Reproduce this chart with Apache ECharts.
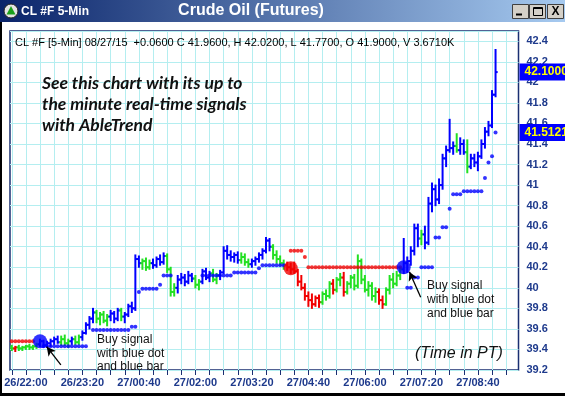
<!DOCTYPE html>
<html>
<head>
<meta charset="utf-8">
<script src="https://cdn.jsdelivr.net/npm/echarts@6/dist/echarts.min.js"></script>
<style>
html,body{margin:0;padding:0;background:#ffffff;overflow:hidden;}
#chart{width:565px;height:396px;}
</style>
</head>
<body>
<div id="chart"></div>
<script>
// ---------------- data ----------------
const firstSlot = '26/21:40';          // first 5-minute slot on the axis
const slotCount = 144;
const tickLabels = ['26/22:00','26/23:20','27/00:40','27/02:00','27/03:20','27/04:40','27/06:00','27/07:20','27/08:40'];

const opens = [
 39.42,39.41,39.42,39.41,39.42,39.43,39.42,39.43,39.45,39.48,
 39.44,39.46,39.48,39.50,39.47,39.50,39.46,39.48,39.50,39.47,
 39.52,39.56,39.64,39.70,39.76,39.70,39.74,39.68,39.72,39.75,
 39.70,39.78,39.72,39.74,39.82,39.80,40.28,40.24,40.26,40.20,
 40.24,40.22,40.28,40.25,40.31,40.18,39.96,40.00,40.08,40.10,
 40.06,40.12,40.09,40.03,40.06,40.16,40.10,40.14,40.08,40.12,
 40.15,40.36,40.32,40.30,40.32,40.27,40.30,40.25,40.23,40.26,
 40.28,40.32,40.36,40.46,40.40,40.32,40.28,40.24,40.22,40.20,
 40.18,40.16,40.06,40.00,39.92,39.88,39.84,39.90,39.86,39.94,
 39.92,40.04,39.98,40.08,40.10,39.96,40.04,40.10,40.02,40.26,
 40.08,39.98,40.02,39.92,39.96,39.88,39.84,39.98,40.08,40.04,
 40.12,40.18,40.24,40.26,40.36,40.58,40.48,40.52,40.44,40.82,
 40.96,40.86,41.00,41.26,41.34,41.36,41.38,41.34,41.40,41.32,
 41.18,41.26,41.22,41.28,41.40,41.52,41.58,41.88
];
const highs = [
 39.44,39.43,39.44,39.43,39.44,39.45,39.44,39.46,39.50,39.49,
 39.48,39.50,39.52,39.53,39.53,39.54,39.50,39.52,39.53,39.54,
 39.58,39.66,39.72,39.80,39.78,39.76,39.77,39.74,39.78,39.77,
 39.80,39.80,39.76,39.84,39.86,40.32,40.31,40.28,40.29,40.27,
 40.28,40.30,40.32,40.34,40.33,40.20,40.04,40.12,40.14,40.13,
 40.16,40.14,40.12,40.08,40.18,40.19,40.16,40.18,40.14,40.17,
 40.40,40.41,40.36,40.34,40.35,40.34,40.33,40.28,40.28,40.30,
 40.34,40.38,40.49,40.48,40.42,40.36,40.31,40.27,40.25,40.24,
 40.25,40.18,40.12,40.04,39.96,39.94,39.92,39.93,39.96,39.98,
 40.06,40.08,40.10,40.14,40.15,40.06,40.12,40.13,40.32,40.28,
 40.12,40.06,40.05,40.00,39.99,39.92,40.00,40.12,40.14,40.16,
 40.20,40.48,40.30,40.40,40.62,40.62,40.56,40.60,40.88,41.02,
 41.00,41.06,41.30,41.38,41.64,41.42,41.50,41.46,41.44,41.44,
 41.30,41.30,41.32,41.44,41.56,41.62,41.92,42.32
];
const lows = [
 39.39,39.38,39.39,39.39,39.40,39.40,39.40,39.41,39.43,39.42,
 39.42,39.43,39.45,39.46,39.44,39.44,39.42,39.45,39.45,39.45,
 39.49,39.55,39.60,39.66,39.66,39.64,39.66,39.63,39.68,39.66,
 39.68,39.68,39.66,39.72,39.76,39.78,40.20,40.18,40.17,40.18,
 40.19,40.20,40.22,40.23,40.15,39.92,39.92,39.95,40.04,40.02,
 40.04,40.06,40.00,39.98,40.04,40.08,40.06,40.06,40.04,40.08,
 40.14,40.28,40.26,40.25,40.24,40.24,40.22,40.20,40.20,40.22,
 40.25,40.28,40.34,40.36,40.28,40.24,40.22,40.18,40.17,40.14,
 40.14,40.02,39.98,39.88,39.82,39.80,39.82,39.81,39.84,39.88,
 39.90,39.94,39.96,40.02,39.92,39.94,40.00,39.98,40.00,40.04,
 39.96,39.92,39.88,39.86,39.84,39.80,39.83,39.94,40.00,40.02,
 40.08,40.14,40.15,40.22,40.32,40.40,40.42,40.38,40.42,40.74,
 40.80,40.82,40.96,41.18,41.32,41.30,41.32,41.30,41.30,41.12,
 41.16,41.18,41.14,41.26,41.36,41.48,41.56,41.86
];
const closes = [
 39.41,39.42,39.41,39.42,39.43,39.42,39.43,39.45,39.48,39.44,
 39.46,39.48,39.50,39.47,39.50,39.46,39.48,39.50,39.47,39.52,
 39.56,39.64,39.70,39.76,39.70,39.74,39.68,39.72,39.75,39.70,
 39.78,39.72,39.74,39.82,39.80,40.28,40.24,40.26,40.20,40.24,
 40.22,40.28,40.25,40.31,40.18,39.96,40.00,40.08,40.10,40.06,
 40.12,40.09,40.03,40.06,40.16,40.10,40.14,40.08,40.12,40.15,
 40.36,40.32,40.30,40.32,40.27,40.30,40.25,40.23,40.26,40.28,
 40.32,40.36,40.46,40.40,40.32,40.28,40.24,40.22,40.20,40.18,
 40.16,40.06,40.00,39.92,39.88,39.84,39.90,39.86,39.94,39.92,
 40.04,39.98,40.08,40.10,39.96,40.04,40.10,40.02,40.26,40.08,
 39.98,40.02,39.92,39.96,39.88,39.84,39.98,40.08,40.04,40.12,
 40.18,40.24,40.26,40.36,40.58,40.48,40.52,40.44,40.82,40.96,
 40.86,41.00,41.26,41.34,41.36,41.38,41.34,41.40,41.32,41.18,
 41.26,41.22,41.28,41.40,41.52,41.58,41.88,42.10
];
// b = blue (up trend), g = green (neutral), r = red (down trend)
const barColors = [
 'g','r','g','g','g','g','g','g','b','b',
 'b','b','b','b','g','g','g','b','g','g',
 'b','b','b','b','g','g','g','g','b','b',
 'b','g','b','b','b','b','b','g','g','g',
 'b','b','b','b','g','g','g','b','b','b',
 'b','b','g','g','b','b','b','g','g','b',
 'b','b','b','b','b','g','g','g','b','b',
 'b','b','b','b','g','g','g','g','r','r',
 'r','r','r','r','r','r','r','r','g','g',
 'g','r','g','g','r','g','g','g','g','g',
 'g','g','g','g','r','r','g','g','g','g',
 'g','b','b','b','b','b','g','b','b','b',
 'b','b','b','b','b','b','g','b','b','g',
 'b','b','b','b','b','b','b','b'
];
// blue support dots
const blueDots = [
 null,null,null,null,null,null,null,null,null,39.43,
 39.43,39.43,39.43,39.43,39.43,39.43,39.43,39.43,39.43,39.43,
 39.43,39.43,null,39.59,39.59,39.59,39.59,39.59,39.59,39.59,
 39.59,39.59,39.59,39.59,39.62,39.62,39.96,39.99,39.99,39.99,
 39.99,39.99,40.03,40.12,40.12,40.12,null,null,null,null,
 null,null,null,null,40.12,40.12,40.12,40.12,40.12,40.12,
 40.12,40.12,40.12,40.15,40.15,40.15,40.15,40.15,40.15,40.15,
 40.19,40.22,40.22,40.22,40.22,40.22,40.22,40.22,null,null,
 null,null,null,null,null,null,null,null,null,null,
 null,null,null,null,null,null,null,null,null,null,
 null,null,null,null,null,null,null,null,null,null,
 null,null,40.00,40.00,40.10,40.10,40.20,40.20,40.20,40.20,
 40.49,40.49,40.59,40.59,40.77,40.91,40.91,40.91,40.94,40.94,
 40.94,40.94,40.94,40.94,41.07,41.22,41.28,41.5121
];
// red resistance dots
const redDots = [
 39.48,39.48,39.48,39.48,39.48,39.48,39.48,null,null,null,
 null,null,null,null,null,null,null,null,null,null,
 null,null,null,null,null,null,null,null,null,null,
 null,null,null,null,null,null,null,null,null,null,
 null,null,null,null,null,null,null,null,null,null,
 null,null,null,null,null,null,null,null,null,null,
 null,null,null,null,null,null,null,null,null,null,
 null,null,null,null,null,null,null,null,null,40.36,
 40.36,40.36,40.36,40.30,40.20,40.20,40.20,40.20,40.20,40.20,
 40.20,40.20,40.20,40.20,40.20,40.20,40.20,40.20,40.20,40.20,
 40.20,40.20,40.20,40.20,40.20,40.20,40.20,40.20,40.20,40.20,
 40.20,null,null,null,null,null,null,null,null,null,
 null,null,null,null,null,null,null,null,null,null,
 null,null,null,null,null,null,null,null
];
const buySignals = [{time:'26/22:20', price:39.48}, {time:'27/06:55', price:40.20}];
const sellSignals = [{time:'27/04:15', price:40.19}];

// ---------------- build ----------------
function slotName(startName, step) {
  const d = parseInt(startName.slice(0,2),10);
  const h = parseInt(startName.slice(3,5),10);
  const m = parseInt(startName.slice(6,8),10);
  const t = h*60 + m + 5*step;
  const day = d + Math.floor(t/1440);
  const r = t % 1440;
  return day + '/' + String(Math.floor(r/60)).padStart(2,'0') + ':' + String(r%60).padStart(2,'0');
}
const times = [];
for (let i = 0; i < slotCount; i++) times.push(slotName(firstSlot, i));
const tickPos = [];
for (let i = 0; i < slotCount; i += 4) tickPos.push(i);
const labelPos = tickLabels.map(t => times.indexOf(t));

const COLORS = {b:'#0000ff', g:'#22e022', r:'#f00000'};
const NAVY = '#1a2f72';
const LABEL = '#1e3a8c';

const barData = opens.map((o, i) => [i, o, highs[i], lows[i], closes[i]]);
const blueData = blueDots.map((v, i) => v == null ? null : [i, v]).filter(Boolean);
const redData = redDots.map((v, i) => v == null ? null : [i, v]).filter(Boolean);
const buyData = buySignals.map(s => [times.indexOf(s.time), s.price]);
const sellData = sellSignals.map(s => [times.indexOf(s.time), s.price]);
const lastClose = closes[closes.length - 1];
const lastDot = blueDots[blueDots.length - 1];

function renderBar(params, api) {
  const i = api.value(0);
  const pH = api.coord([i, api.value(2)]);
  const x = pH[0];
  const yL = api.coord([i, api.value(3)])[1];
  const yO = api.coord([i, api.value(1)])[1];
  const yC = api.coord([i, api.value(4)])[1];
  const w = api.size([1, 0])[0];
  const col = COLORS[barColors[params.dataIndex]];
  const st = {stroke: col, lineWidth: 2};
  return {type: 'group', children: [
    {type: 'line', shape: {x1: x, y1: pH[1] - 0.5, x2: x, y2: yL + 0.5}, style: st},
    {type: 'line', shape: {x1: x - w * 0.6, y1: yO, x2: x, y2: yO}, style: st},
    {type: 'line', shape: {x1: x, y1: yC, x2: x + w * 0.6, y2: yC}, style: st}
  ]};
}

const FONT = '"Liberation Sans", Arial, sans-serif';
const chart = echarts.init(document.getElementById('chart'), null, {renderer: 'canvas'});
const option = {
  animation: false,
  backgroundColor: '#ffffff',
  grid: {left: 10, right: 46.5, top: 31, bottom: 26, show: true,
         borderColor: NAVY, borderWidth: 1.5, backgroundColor: '#ffffff'},
  xAxis: {
    type: 'value', min: -0.5, max: slotCount - 0.5,
    axisLine: {show: false},
    axisTick: {show: true, customValues: tickPos, length: 5, lineStyle: {color: NAVY, width: 1}},
    axisLabel: {customValues: labelPos, formatter: v => times[Math.round(v)],
                color: LABEL, fontSize: 11, fontWeight: 'bold', fontFamily: FONT, margin: 7},
    splitLine: {show: true, lineStyle: {color: '#b4eef0', width: 1}}
  },
  yAxis: {
    type: 'value', position: 'right', min: 39.2, max: 42.5, interval: 0.2,
    axisLine: {show: false}, axisTick: {show: false},
    axisLabel: {
      formatter: v => (Math.abs(v * 5 - Math.round(v * 5)) > 1e-6 || v > 42.45) ? '' : String(+v.toFixed(1)),
      color: LABEL, fontSize: 11, fontWeight: 'bold', fontFamily: FONT, margin: 8, align: 'left'
    },
    splitLine: {show: true, lineStyle: {color: '#b4eef0', width: 1}}
  },
  series: [
    {type: 'custom', name: 'bars', renderItem: renderBar, data: barData, z: 2,
     encode: {x: 0, y: [1, 2, 3, 4]}, clip: true},
    {type: 'scatter', name: 'blueDots', data: blueData, symbol: 'circle', symbolSize: 4,
     itemStyle: {color: '#0000ff'}, z: 3},
    {type: 'scatter', name: 'redDots', data: redData, symbol: 'circle', symbolSize: 4,
     itemStyle: {color: '#f00000'}, z: 3},
    {type: 'scatter', name: 'sell', data: sellData, symbolSize: 14, itemStyle: {color: '#f00000'}, z: 4},
    {type: 'scatter', name: 'buy', data: buyData, symbolSize: 14, itemStyle: {color: '#0000ff'}, z: 4,
     markLine: {
       silent: true, animation: false, symbolSize: [7, 9],
       lineStyle: {color: '#000000', width: 1.3, type: 'solid'},
       label: {show: false},
       data: [
         [{coord: [9.9, 39.427], symbol: 'arrow'}, {coord: [13.9, 39.25], symbol: 'none'}],
         [{coord: [112.6, 40.157], symbol: 'arrow'}, {coord: [115.8, 39.908], symbol: 'none'}]
       ]
     }},
    {type: 'line', name: 'tags', data: [], z: 6, silent: true,
     markLine: {
       silent: true, symbol: 'none', animation: false, precision: 4,
       lineStyle: {color: 'rgba(0,0,0,0)', width: 1, type: 'solid'},
       label: {
         show: true, position: 'end', distance: 1, color: '#ffff00', fontWeight: 'bold',
         fontSize: 12, fontFamily: FONT, backgroundColor: '#0000ff', padding: [3, 8, 2, 5],
         formatter: p => Number(p.value).toFixed(4)
       },
       data: [{yAxis: lastClose}, {yAxis: lastDot}]
     }}
  ],
  graphic: [
    {type: 'rect', z: 50, shape: {x: 0, y: 0, width: 565, height: 22},
     style: {fill: new echarts.graphic.LinearGradient(0, 0, 1, 0, [{offset: 0, color: '#0a246a'}, {offset: 1, color: '#a6caf0'}])}},
    {type: 'circle', z: 51, shape: {cx: 11, cy: 11, r: 7}, style: {fill: '#e4e4e4', stroke: '#222', lineWidth: 1}},
    {type: 'polygon', z: 52, shape: {points: [[11, 6], [15.5, 14.5], [6.5, 14.5]]}, style: {fill: '#1aa01a'}},
    {type: 'text', z: 52, x: 21, y: 12, style: {text: 'CL #F 5-Min', fill: '#ffffff', font: 'bold 12px ' + FONT, textVerticalAlign: 'middle'}},
    {type: 'text', z: 52, x: 251, y: 11, style: {text: 'Crude Oil (Futures)', fill: '#ffffff', font: 'bold 16px ' + FONT, textAlign: 'center', textVerticalAlign: 'middle'}},
    // window buttons
    {type: 'rect', z: 52, shape: {x: 512.5, y: 4.5, width: 16, height: 14}, style: {fill: '#d4d0c8', stroke: '#404040', lineWidth: 1}},
    {type: 'line', z: 53, shape: {x1: 516, y1: 14.5, x2: 522, y2: 14.5}, style: {stroke: '#000', lineWidth: 2}},
    {type: 'rect', z: 52, shape: {x: 529.5, y: 4.5, width: 16, height: 14}, style: {fill: '#d4d0c8', stroke: '#404040', lineWidth: 1}},
    {type: 'rect', z: 53, shape: {x: 533.5, y: 7.5, width: 9, height: 8}, style: {fill: 'none', stroke: '#000', lineWidth: 1}},
    {type: 'line', z: 53, shape: {x1: 533.5, y1: 8.5, x2: 542.5, y2: 8.5}, style: {stroke: '#000', lineWidth: 1}},
    {type: 'rect', z: 52, shape: {x: 547.5, y: 4.5, width: 16, height: 14}, style: {fill: '#d4d0c8', stroke: '#404040', lineWidth: 1}},
    {type: 'text', z: 53, x: 555.5, y: 12, style: {text: 'X', fill: '#000', font: 'bold 12px ' + FONT, textAlign: 'center', textVerticalAlign: 'middle'}},
    // window frame
    {type: 'line', z: 50, shape: {x1: 1, y1: 22, x2: 1, y2: 396}, style: {stroke: '#000', lineWidth: 2}},
    {type: 'line', z: 50, shape: {x1: 0, y1: 394.5, x2: 565, y2: 394.5}, style: {stroke: '#000', lineWidth: 3}},
    // texts
    {type: 'text', z: 60, x: 15, y: 42.5, style: {text: 'CL #F [5-Min] 08/27/15  +0.0600 C 41.9600, H 42.0200, L 41.7700, O 41.9000, V 3.6710K', fill: '#000', font: '11px ' + FONT, textVerticalAlign: 'middle'}},
    {type: 'text', z: 60, x: 42, y: 72.5, style: {text: 'See this chart with its up to\nthe minute real-time signals\nwith AbleTrend', fill: '#111', font: 'italic bold 17.5px Lato, "Open Sans", sans-serif', lineHeight: 21, textVerticalAlign: 'top'}},
    {type: 'text', z: 60, x: 97, y: 333.25, style: {text: 'Buy signal\nwith blue dot\nand blue bar', fill: '#111', font: '12px ' + FONT, lineHeight: 13.5, textVerticalAlign: 'top'}},
    {type: 'text', z: 60, x: 427, y: 279, style: {text: 'Buy signal\nwith blue dot\nand blue bar', fill: '#111', font: '12px ' + FONT, lineHeight: 14, textVerticalAlign: 'top'}},
    {type: 'text', z: 60, x: 415, y: 354, style: {text: '(Time in PT)', fill: '#111', font: 'italic 16px ' + FONT, textVerticalAlign: 'middle'}}
  ]
};
chart.setOption(option);
</script>
</body>
</html>
